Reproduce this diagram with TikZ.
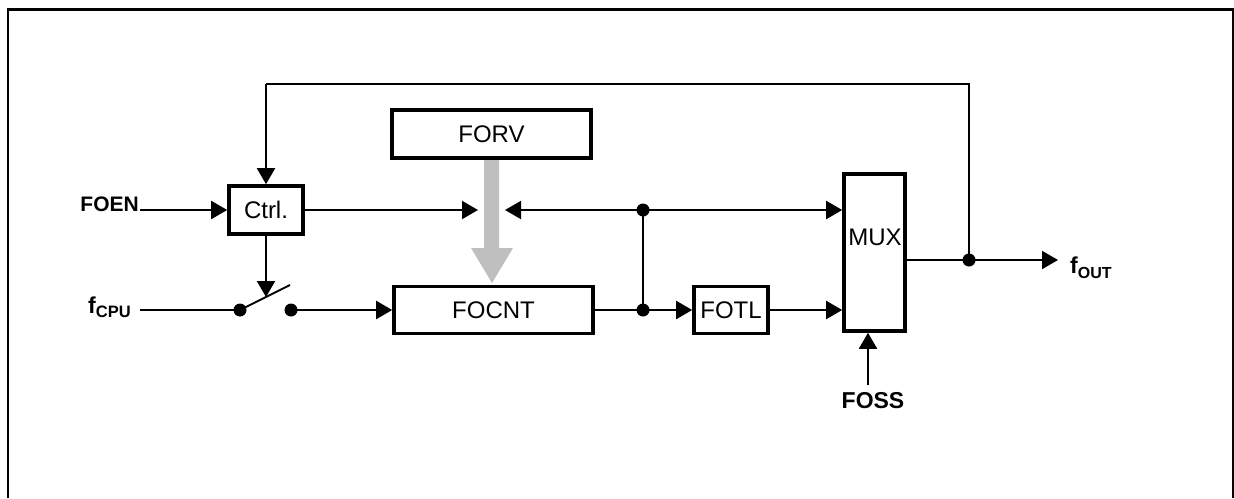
\documentclass[tikz,border=0pt]{standalone}
\usepackage{fontspec}
\setmainfont{Liberation Sans}
\usetikzlibrary{arrows.meta}
\begin{document}
\begin{tikzpicture}[x=1pt,y=-1pt,
  blk/.style={draw,line width=3.6pt,inner sep=0pt,font=\fontsize{24}{28}\selectfont},
  wire/.style={line width=2pt},
  arr/.style={wire,-{Triangle[length=16pt,width=18pt]}},
  jdot/.style={circle,fill,inner sep=0pt,minimum size=13pt},
  lbl/.style={inner sep=0pt,font=\bfseries\fontsize{21}{25}\selectfont},
  sig/.style={inner sep=0pt,font=\bfseries\fontsize{23}{27}\selectfont}]
\useasboundingbox (0,0) rectangle (1234,498);
\draw[line width=2.5pt] (8,498) -- (8,9.5) -- (1233,9.5) -- (1233,498);
% blocks
\node[blk,minimum width=74pt,minimum height=48pt] (ctrl) at (266,210) {Ctrl.};
\node[blk,minimum width=199pt,minimum height=48pt] (forv) at (491.5,134) {FORV};
\node[blk,minimum width=199pt,minimum height=47pt] (focnt) at (493.5,310) {FOCNT};
\node[blk,minimum width=74pt,minimum height=47pt] (fotl) at (731,310) {FOTL};
\node[blk,minimum width=61pt,minimum height=157pt] (mux) at (874.5,252.5) {};
\node[inner sep=0pt,font=\fontsize{24}{28}\selectfont] (muxt) at (875,237) {MUX};
% labels
\node[lbl,anchor=base east] (foen) at (139,211) {FOEN};
\node[sig,anchor=base west] (fcpu) at (88,313) {f\raisebox{-4pt}{\fontsize{16.5}{18}\selectfont CPU}};
\node[sig,anchor=base] (foss) at (873,408) {FOSS};
\node[sig,anchor=base west] (fout) at (1070,273) {f\raisebox{-5pt}{\fontsize{16}{18}\selectfont OUT}};
% coordinates and dots
\coordinate (foenend) at (140,210);
\coordinate (fcpuend) at (140,310);
\node[jdot] (sw1) at (240,310) {};
\node[jdot] (sw2) at (291,310) {};
\coordinate (lev) at (290,285);
\coordinate (levhit) at (266,297);
\node[jdot] (ja) at (643,210) {};
\node[jdot] (jb) at (643,310) {};
\node[jdot] (jo) at (969,260) {};
\coordinate (tipl) at (478,210);
\coordinate (tipr) at (505,210);
\coordinate (fbr) at (969,84);
\coordinate (fbl) at (266,84);
\coordinate (outend) at (1058,260);
\coordinate (fossstart) at (868,385);
% gray bus arrow
\fill[gray!50] (484,160) -- (499,160) -- (499,248) -- (513,248) -- (492,283) -- (471,248) -- (484,248) -- cycle;
% wires
\draw[arr] (foenend) -- (ctrl.west);
\draw[arr] (fbl |- fbr) -- (ctrl.north);
\draw[wire] (jo.center) -- (fbr) -- (fbl);
\draw[arr] (ctrl.south) -- (levhit);
\draw[wire] (fcpuend) -- (sw1.center);
\draw[wire] (sw1.center) -- (lev);
\draw[arr] (sw2.center) -- (focnt.west);
\draw[arr] (ctrl.east) -- (tipl);
\draw[arr] (ja.center) -- (tipr);
\draw[arr] (ja.center) -- (mux.west |- ja);
\draw[wire] (ja.center) -- (jb.center);
\draw[wire] (focnt.east) -- (jb.center);
\draw[arr] (jb.center) -- (fotl.west);
\draw[arr] (fotl.east) -- (mux.west |- fotl);
\draw[arr] (fossstart) -- (fossstart |- mux.south);
\draw[wire] (mux.east |- jo) -- (jo.center);
\draw[arr] (jo.center) -- (outend);
\end{tikzpicture}
\end{document}
